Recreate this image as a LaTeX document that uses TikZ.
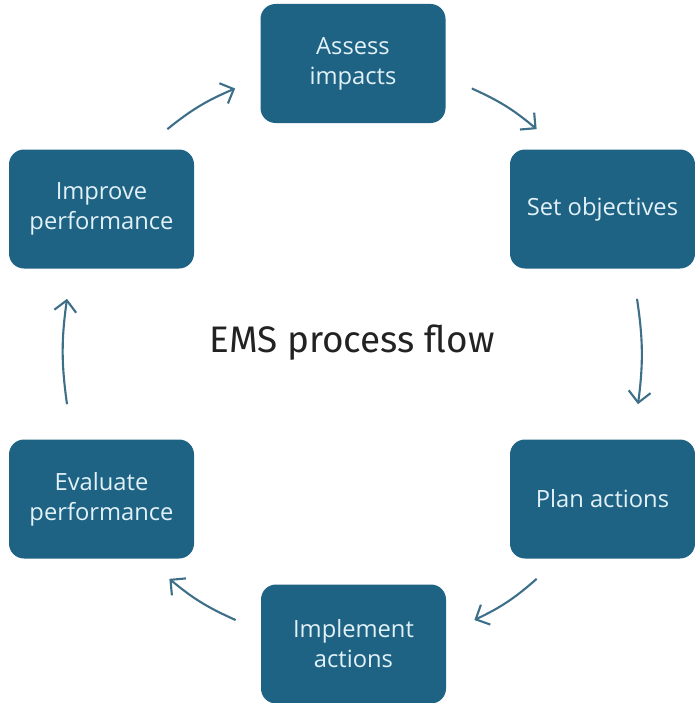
\documentclass[tikz,border=0pt]{standalone}
\usepackage{fontspec}
\setmainfont{Open Sans}
\newfontfamily\titlefont{Fira Sans}
\usetikzlibrary{arrows.meta}
\definecolor{boxblue}{HTML}{1E6384}
\definecolor{boxtext}{HTML}{E2F1F7}
\definecolor{flowline}{HTML}{3E6F88}
\definecolor{titlegray}{HTML}{222222}

\begin{document}
\begin{tikzpicture}
        \tikzset{
          every step/.style={
            fill=boxblue,
            rounded corners=0.3cm,
            minimum width=3.7cm,
            minimum height=2.38cm,
            text=boxtext,
            align=center,
            font=\fontsize{13.5}{17}\selectfont,
          },
          flow/.style={
            draw=flowline,
            line width=1.2pt,
            -{Straight Barb[length=2.2mm,width=4.4mm]},
            bend left=8,
          },
        }
        \useasboundingbox (0,0) rectangle (13.88,-14.06);
        \node[every step] (assess) at (7.06,-1.27) {Assess\\impacts};
        \node[every step] (objectives) at (12.05,-4.18) {Set objectives};
        \node[every step] (plan) at (12.05,-9.98) {Plan actions};
        \node[every step] (implement) at (7.07,-12.88) {Implement\\actions};
        \node[every step] (evaluate) at (2.03,-9.98) {Evaluate\\performance};
        \node[every step] (improve) at (2.03,-4.18) {Improve\\performance};
        \node[text=titlegray, font=\titlefont\fontsize{21}{25}\selectfont] (title) at (7.04,-6.86) {EMS process flow};

        \draw[flow] ([shift={(-0.54,0.4)}]improve.north east) to ([shift={(-0.5,-0.5)}]assess.west);
        \draw[flow] ([shift={(0.52,-0.5)}]assess.east) to ([shift={(0.54,0.4)}]objectives.north west);
        \draw[flow] ([shift={(0.69,-0.6)}]objectives.south) to ([shift={(0.71,0.7)}]plan.north);
        \draw[flow] ([shift={(0.54,-0.4)}]plan.south west) to ([shift={(0.56,0.48)}]implement.east);
        \draw[flow] ([shift={(-0.5,0.48)}]implement.west) to ([shift={(-0.5,-0.4)}]evaluate.south east);
        \draw[flow] ([shift={(-0.69,0.7)}]evaluate.north) to ([shift={(-0.69,-0.6)}]improve.south);
      \end{tikzpicture}
\end{document}
